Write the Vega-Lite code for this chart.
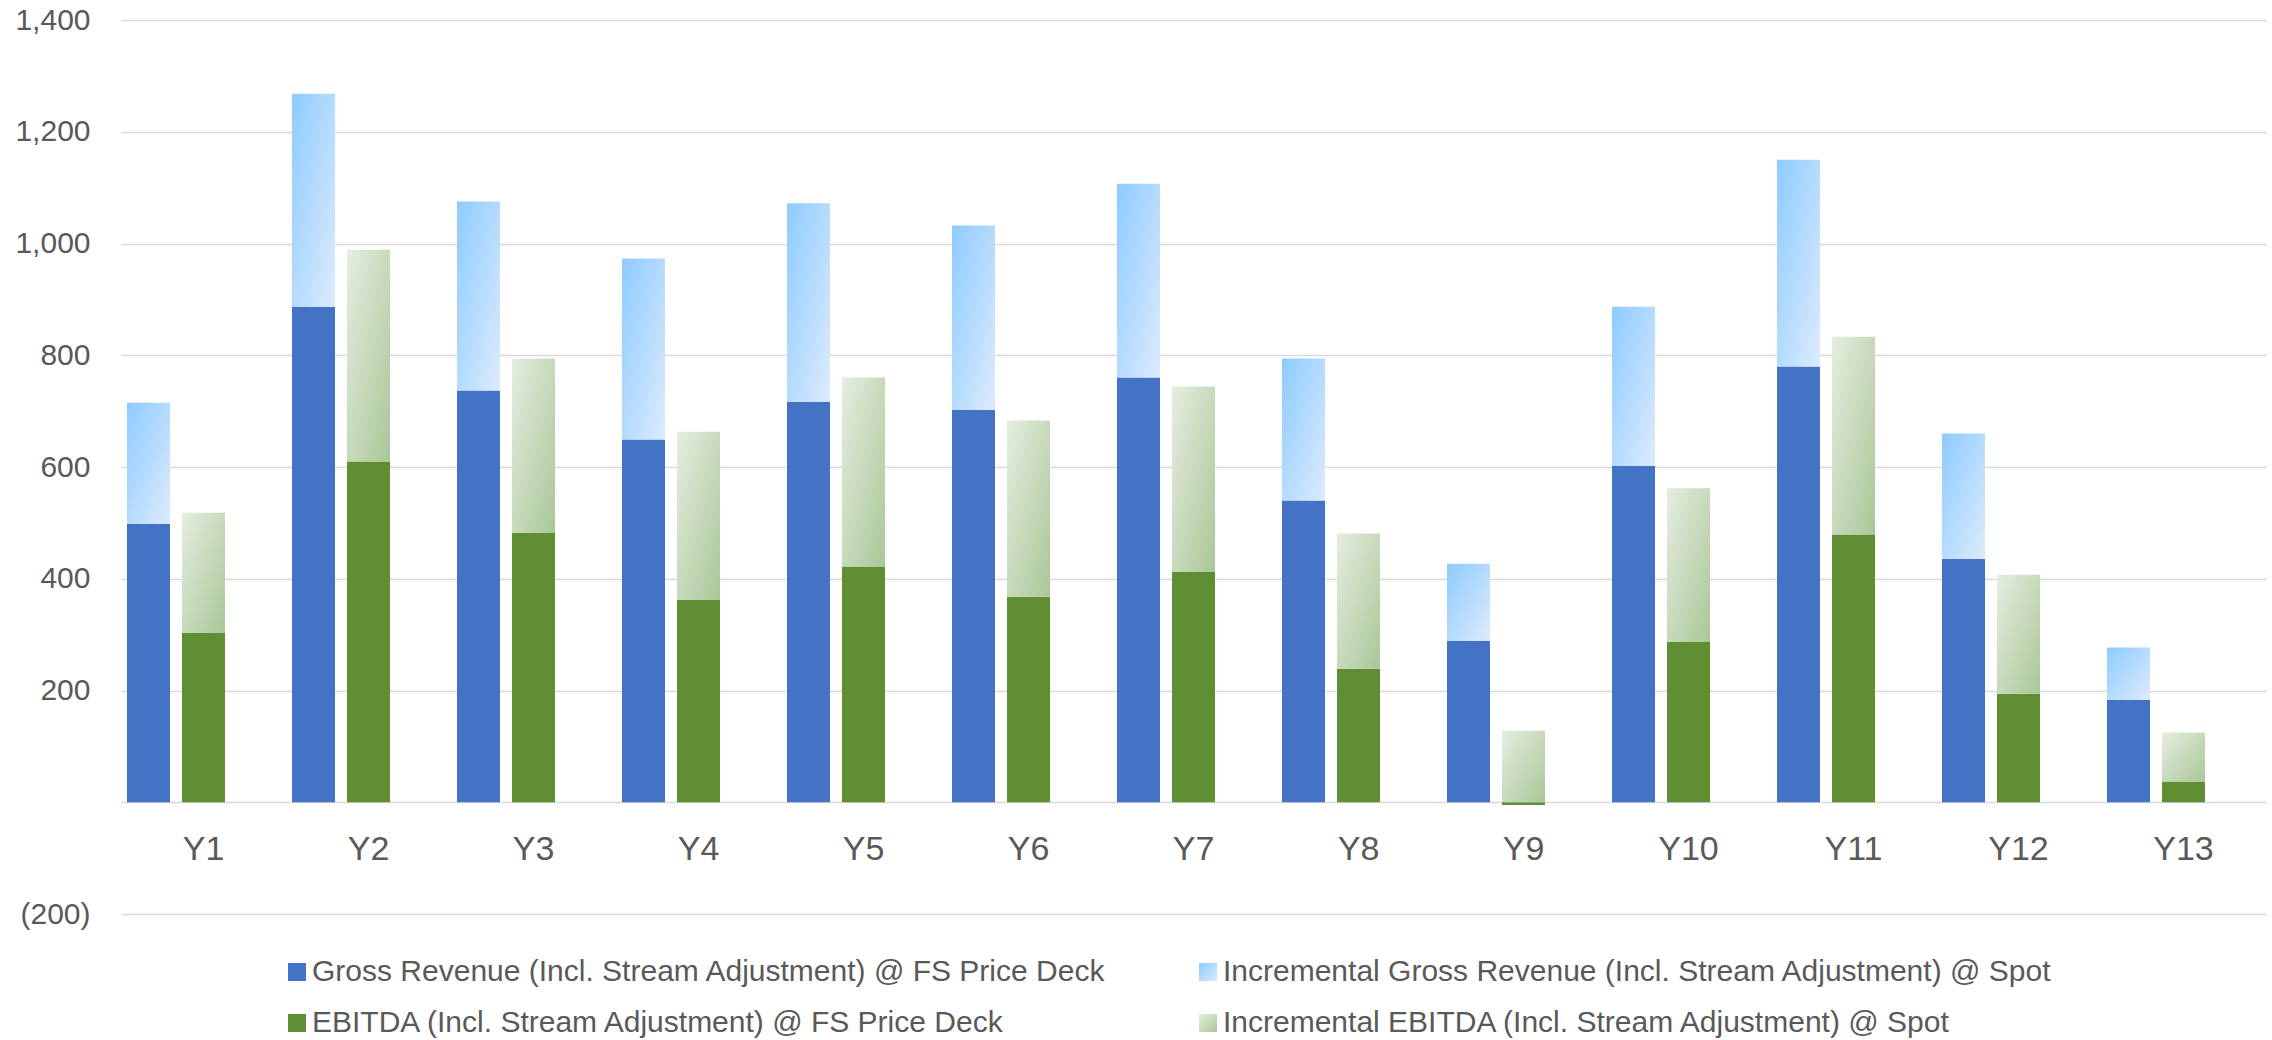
{
  "$schema": "https://vega.github.io/schema/vega-lite/v6.json",
  "autosize": {"type": "none"},
  "width": 2145,
  "height": 894,
  "padding": {"left": 121, "top": 20, "right": 6, "bottom": 126},
  "background": "white",
  "config": {
    "font": "Liberation Sans",
    "view": {"stroke": null}
  },
  "data": {
    "values": [
      {"year": "Y1", "group": "Revenue", "k": 0, "series": "Gross Revenue (Incl. Stream Adjustment) @ FS Price Deck", "value": 498},
      {"year": "Y1", "group": "Revenue", "k": 1, "series": "Incremental Gross Revenue (Incl. Stream Adjustment) @ Spot", "value": 217},
      {"year": "Y1", "group": "EBITDA", "k": 0, "series": "EBITDA (Incl. Stream Adjustment) @ FS Price Deck", "value": 303},
      {"year": "Y1", "group": "EBITDA", "k": 1, "series": "Incremental EBITDA (Incl. Stream Adjustment) @ Spot", "value": 215},
      {"year": "Y2", "group": "Revenue", "k": 0, "series": "Gross Revenue (Incl. Stream Adjustment) @ FS Price Deck", "value": 887},
      {"year": "Y2", "group": "Revenue", "k": 1, "series": "Incremental Gross Revenue (Incl. Stream Adjustment) @ Spot", "value": 381},
      {"year": "Y2", "group": "EBITDA", "k": 0, "series": "EBITDA (Incl. Stream Adjustment) @ FS Price Deck", "value": 610},
      {"year": "Y2", "group": "EBITDA", "k": 1, "series": "Incremental EBITDA (Incl. Stream Adjustment) @ Spot", "value": 379},
      {"year": "Y3", "group": "Revenue", "k": 0, "series": "Gross Revenue (Incl. Stream Adjustment) @ FS Price Deck", "value": 737},
      {"year": "Y3", "group": "Revenue", "k": 1, "series": "Incremental Gross Revenue (Incl. Stream Adjustment) @ Spot", "value": 338},
      {"year": "Y3", "group": "EBITDA", "k": 0, "series": "EBITDA (Incl. Stream Adjustment) @ FS Price Deck", "value": 482},
      {"year": "Y3", "group": "EBITDA", "k": 1, "series": "Incremental EBITDA (Incl. Stream Adjustment) @ Spot", "value": 312},
      {"year": "Y4", "group": "Revenue", "k": 0, "series": "Gross Revenue (Incl. Stream Adjustment) @ FS Price Deck", "value": 649},
      {"year": "Y4", "group": "Revenue", "k": 1, "series": "Incremental Gross Revenue (Incl. Stream Adjustment) @ Spot", "value": 324},
      {"year": "Y4", "group": "EBITDA", "k": 0, "series": "EBITDA (Incl. Stream Adjustment) @ FS Price Deck", "value": 362},
      {"year": "Y4", "group": "EBITDA", "k": 1, "series": "Incremental EBITDA (Incl. Stream Adjustment) @ Spot", "value": 301},
      {"year": "Y5", "group": "Revenue", "k": 0, "series": "Gross Revenue (Incl. Stream Adjustment) @ FS Price Deck", "value": 717},
      {"year": "Y5", "group": "Revenue", "k": 1, "series": "Incremental Gross Revenue (Incl. Stream Adjustment) @ Spot", "value": 355},
      {"year": "Y5", "group": "EBITDA", "k": 0, "series": "EBITDA (Incl. Stream Adjustment) @ FS Price Deck", "value": 422},
      {"year": "Y5", "group": "EBITDA", "k": 1, "series": "Incremental EBITDA (Incl. Stream Adjustment) @ Spot", "value": 338},
      {"year": "Y6", "group": "Revenue", "k": 0, "series": "Gross Revenue (Incl. Stream Adjustment) @ FS Price Deck", "value": 702},
      {"year": "Y6", "group": "Revenue", "k": 1, "series": "Incremental Gross Revenue (Incl. Stream Adjustment) @ Spot", "value": 330},
      {"year": "Y6", "group": "EBITDA", "k": 0, "series": "EBITDA (Incl. Stream Adjustment) @ FS Price Deck", "value": 368},
      {"year": "Y6", "group": "EBITDA", "k": 1, "series": "Incremental EBITDA (Incl. Stream Adjustment) @ Spot", "value": 315},
      {"year": "Y7", "group": "Revenue", "k": 0, "series": "Gross Revenue (Incl. Stream Adjustment) @ FS Price Deck", "value": 760},
      {"year": "Y7", "group": "Revenue", "k": 1, "series": "Incremental Gross Revenue (Incl. Stream Adjustment) @ Spot", "value": 347},
      {"year": "Y7", "group": "EBITDA", "k": 0, "series": "EBITDA (Incl. Stream Adjustment) @ FS Price Deck", "value": 412},
      {"year": "Y7", "group": "EBITDA", "k": 1, "series": "Incremental EBITDA (Incl. Stream Adjustment) @ Spot", "value": 332},
      {"year": "Y8", "group": "Revenue", "k": 0, "series": "Gross Revenue (Incl. Stream Adjustment) @ FS Price Deck", "value": 540},
      {"year": "Y8", "group": "Revenue", "k": 1, "series": "Incremental Gross Revenue (Incl. Stream Adjustment) @ Spot", "value": 254},
      {"year": "Y8", "group": "EBITDA", "k": 0, "series": "EBITDA (Incl. Stream Adjustment) @ FS Price Deck", "value": 239},
      {"year": "Y8", "group": "EBITDA", "k": 1, "series": "Incremental EBITDA (Incl. Stream Adjustment) @ Spot", "value": 242},
      {"year": "Y9", "group": "Revenue", "k": 0, "series": "Gross Revenue (Incl. Stream Adjustment) @ FS Price Deck", "value": 289},
      {"year": "Y9", "group": "Revenue", "k": 1, "series": "Incremental Gross Revenue (Incl. Stream Adjustment) @ Spot", "value": 138},
      {"year": "Y9", "group": "EBITDA", "k": 0, "series": "EBITDA (Incl. Stream Adjustment) @ FS Price Deck", "value": -5},
      {"year": "Y9", "group": "EBITDA", "k": 1, "series": "Incremental EBITDA (Incl. Stream Adjustment) @ Spot", "value": 128},
      {"year": "Y10", "group": "Revenue", "k": 0, "series": "Gross Revenue (Incl. Stream Adjustment) @ FS Price Deck", "value": 602},
      {"year": "Y10", "group": "Revenue", "k": 1, "series": "Incremental Gross Revenue (Incl. Stream Adjustment) @ Spot", "value": 285},
      {"year": "Y10", "group": "EBITDA", "k": 0, "series": "EBITDA (Incl. Stream Adjustment) @ FS Price Deck", "value": 287},
      {"year": "Y10", "group": "EBITDA", "k": 1, "series": "Incremental EBITDA (Incl. Stream Adjustment) @ Spot", "value": 275},
      {"year": "Y11", "group": "Revenue", "k": 0, "series": "Gross Revenue (Incl. Stream Adjustment) @ FS Price Deck", "value": 780},
      {"year": "Y11", "group": "Revenue", "k": 1, "series": "Incremental Gross Revenue (Incl. Stream Adjustment) @ Spot", "value": 370},
      {"year": "Y11", "group": "EBITDA", "k": 0, "series": "EBITDA (Incl. Stream Adjustment) @ FS Price Deck", "value": 479},
      {"year": "Y11", "group": "EBITDA", "k": 1, "series": "Incremental EBITDA (Incl. Stream Adjustment) @ Spot", "value": 354},
      {"year": "Y12", "group": "Revenue", "k": 0, "series": "Gross Revenue (Incl. Stream Adjustment) @ FS Price Deck", "value": 436},
      {"year": "Y12", "group": "Revenue", "k": 1, "series": "Incremental Gross Revenue (Incl. Stream Adjustment) @ Spot", "value": 224},
      {"year": "Y12", "group": "EBITDA", "k": 0, "series": "EBITDA (Incl. Stream Adjustment) @ FS Price Deck", "value": 194},
      {"year": "Y12", "group": "EBITDA", "k": 1, "series": "Incremental EBITDA (Incl. Stream Adjustment) @ Spot", "value": 213},
      {"year": "Y13", "group": "Revenue", "k": 0, "series": "Gross Revenue (Incl. Stream Adjustment) @ FS Price Deck", "value": 183},
      {"year": "Y13", "group": "Revenue", "k": 1, "series": "Incremental Gross Revenue (Incl. Stream Adjustment) @ Spot", "value": 94},
      {"year": "Y13", "group": "EBITDA", "k": 0, "series": "EBITDA (Incl. Stream Adjustment) @ FS Price Deck", "value": 37},
      {"year": "Y13", "group": "EBITDA", "k": 1, "series": "Incremental EBITDA (Incl. Stream Adjustment) @ Spot", "value": 88}
    ]
  },
  "mark": {"type": "bar"},
  "encoding": {
    "x": {
      "field": "year",
      "type": "nominal",
      "sort": null,
      "scale": {"paddingInner": 0, "paddingOuter": 0},
      "axis": {
        "title": null,
        "domain": false,
        "ticks": false,
        "grid": false,
        "labelAngle": 0,
        "labelPadding": -64.5,
        "labelBaseline": "middle",
        "labelFontSize": 34,
        "labelColor": "#595959"
      }
    },
    "xOffset": {
      "field": "group",
      "type": "nominal",
      "scale": {"domain": ["Revenue", "EBITDA", "Blank"], "paddingInner": 0.218, "paddingOuter": 0.109}
    },
    "y": {
      "field": "value",
      "type": "quantitative",
      "stack": "zero",
      "scale": {"domain": [-200, 1400], "nice": false},
      "axis": {
        "title": null,
        "values": [-200, 0, 200, 400, 600, 800, 1000, 1200, 1400],
        "domain": false,
        "ticks": false,
        "grid": true,
        "gridColor": "#d9d9d9",
        "gridWidth": 1.5,
        "labelPadding": 31,
        "labelFontSize": 30,
        "labelColor": "#595959",
        "labelExpr": "datum.value == 0 ? '' : (datum.value < 0 ? '(' + format(-datum.value, ',') + ')' : format(datum.value, ','))"
      }
    },
    "order": {"field": "k", "type": "quantitative", "sort": "ascending"},
    "color": {
      "field": "series",
      "type": "nominal",
      "scale": {
        "domain": [
          "Gross Revenue (Incl. Stream Adjustment) @ FS Price Deck",
          "Incremental Gross Revenue (Incl. Stream Adjustment) @ Spot",
          "EBITDA (Incl. Stream Adjustment) @ FS Price Deck",
          "Incremental EBITDA (Incl. Stream Adjustment) @ Spot"
        ],
        "range": [
          "#4472C4",
          {"expr": "{gradient: 'linear', x1: 0, y1: 0, x2: 1, y2: 1, stops: [{offset: 0, color: '#8ecbff'}, {offset: 1, color: '#dcebfd'}]}"},
          "#5F8F32",
          {"expr": "{gradient: 'linear', x1: 0, y1: 0, x2: 1, y2: 1, stops: [{offset: 0, color: '#e5ede0'}, {offset: 1, color: '#aac798'}]}"}
        ]
      },
      "legend": {
        "title": null,
        "orient": "none",
        "legendX": 161,
        "legendY": 937,
        "columns": 2,
        "direction": "horizontal",
        "symbolType": "square",
        "symbolSize": 324,
        "symbolStrokeWidth": 0,
        "symbolOpacity": 1,
        "labelFontSize": 30,
        "labelColor": "#595959",
        "labelLimit": 2000,
        "labelOffset": 0,
        "rowPadding": 21,
        "columnPadding": 86,
        "padding": 0
      }
    }
  }
}
